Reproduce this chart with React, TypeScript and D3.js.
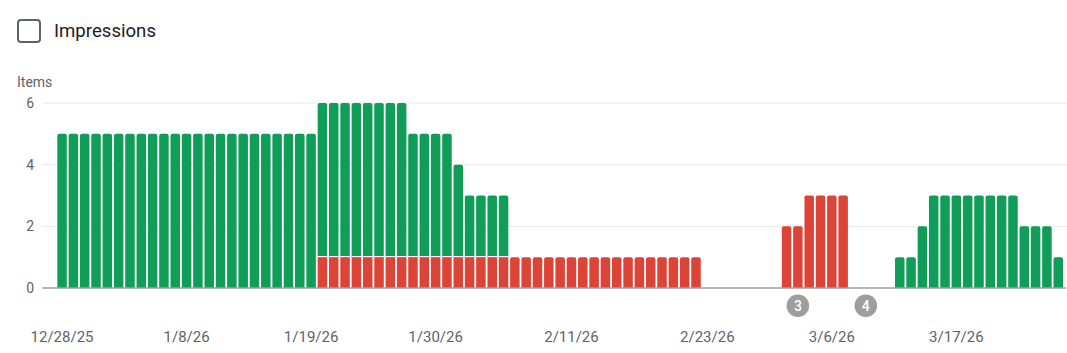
import * as d3 from "d3";

// daily item counts, starting 12/28/25 (89 days)
const startDate = new Date(2025, 11, 28);
const dayCount = 89;

const validItems = [
  5, 5, 5, 5, 5, 5, 5, 5, 5, 5, 5, 5, 5, 5, 5, 5, 5, 5, 5, 5, 5, 5, 5,
  5, 5, 5, 5, 5, 5, 5, 5, 4, 4, 4, 4, 3, 2, 2, 2, 2,
  0, 0, 0, 0, 0, 0, 0, 0, 0, 0, 0, 0, 0, 0, 0, 0, 0,
  0, 0, 0, 0, 0, 0, 0, 0, 0, 0, 0, 0, 0, 0, 0, 0, 0,
  1, 1, 2, 3, 3, 3, 3, 3, 3, 3, 3, 2, 2, 2, 1,
];

const invalidItems = [
  0, 0, 0, 0, 0, 0, 0, 0, 0, 0, 0, 0, 0, 0, 0, 0, 0, 0, 0, 0, 0, 0, 0,
  1, 1, 1, 1, 1, 1, 1, 1, 1, 1, 1, 1, 1, 1, 1, 1, 1,
  1, 1, 1, 1, 1, 1, 1, 1, 1, 1, 1, 1, 1, 1, 1, 1, 1,
  0, 0, 0, 0, 0, 0, 0, 2, 2, 3, 3, 3, 3,
  0, 0, 0, 0, 0, 0, 0, 0, 0, 0, 0, 0, 0, 0, 0, 0, 0, 0, 0,
];

const tickLabels = ["12/28/25", "1/8/26", "1/19/26", "1/30/26", "2/11/26", "2/23/26", "3/6/26", "3/17/26"];
const yTicks = [0, 2, 4, 6];

const annotations = [
  { date: "3/3/26", label: "3" },
  { date: "3/9/26", label: "4" },
];

const GREEN = "#0f9d58";
const RED = "#db4437";
const FONT = "Roboto, Arial, sans-serif";

const fmt = d3.timeFormat("%-m/%-d/%y");

// rect with rounded top corners only
const topRounded = (x: number, y: number, w: number, h: number, r: number) => {
  const rr = Math.min(r, h, w / 2);
  return `M${x},${y + h}V${y + rr}Q${x},${y} ${x + rr},${y}H${x + w - rr}Q${x + w},${y} ${x + w},${y + rr}V${y + h}Z`;
};

const App = () => {
  const width = 1067;
  const height = 353;

  const dates = d3.timeDay.range(startDate, d3.timeDay.offset(startDate, dayCount)).map(fmt);

  const x = d3
    .scaleBand<string>()
    .domain(dates)
    .range([56.4, 1063.9])
    .paddingInner(0.16)
    .paddingOuter(0.08);

  const y = d3.scaleLinear().domain([0, 6]).range([288, 103]);

  const data = dates.map((d, i) => ({ date: d, valid: validItems[i], invalid: invalidItems[i] }));
  const bw = x.bandwidth();

  return (
    <svg
      width={width}
      height={height}
      style={{ position: "absolute", left: 0, top: 0, fontFamily: FONT }}
    >
      {/* legend checkbox */}
      <rect x={18} y={20} width={22} height={22} rx={3} fill="white" stroke="#5f6368" strokeWidth={2} />
      <text x={54} y={37} fontSize={18.6} fill="#202124">Impressions</text>

      <text x={17} y={87} fontSize={14} fill="#5f6368">Items</text>

      {/* gridlines + y labels */}
      {yTicks.map((t) => (
        <g key={t}>
          {t > 0 && <line x1={42} x2={1067} y1={y(t)} y2={y(t)} stroke="#e8e8e8" strokeWidth={1} />}
          <text x={34} y={y(t)} dy="0.35em" textAnchor="end" fontSize={14} fill="#5f6368">
            {t}
          </text>
        </g>
      ))}

      {/* bars */}
      {data.map((d) => {
        const x0 = x(d.date)!;
        const total = d.valid + d.invalid;
        const parts = [];
        if (d.invalid > 0) {
          const top = y(d.invalid);
          parts.push(
            <path
              key="r"
              d={d.valid > 0 ? `M${x0},${top}h${bw}V${y(0)}h${-bw}Z` : topRounded(x0, top, bw, y(0) - top, 2)}
              fill={RED}
            />
          );
        }
        if (d.valid > 0) {
          const top = y(total);
          const bottom = d.invalid > 0 ? y(d.invalid) - 1.2 : y(0);
          parts.push(<path key="g" d={topRounded(x0, top, bw, bottom - top, 2)} fill={GREEN} />);
        }
        return <g key={d.date}>{parts}</g>;
      })}

      {/* baseline */}
      <line x1={42} x2={1066} y1={y(0)} y2={y(0)} stroke="#9aa0a6" strokeWidth={1.5} />

      {/* annotation markers */}
      {annotations.map((a) => {
        const cx = x(a.date)! + bw / 2;
        return (
          <g key={a.label}>
            <circle cx={cx} cy={305.7} r={11.3} fill="#9e9e9e" />
            <text x={cx} y={305.7} dy="0.36em" textAnchor="middle" fontSize={14} fontWeight={500} fill="white">
              {a.label}
            </text>
          </g>
        );
      })}

      {/* x tick labels */}
      {tickLabels.map((t) => (
        <text key={t} x={x(t)! + bw / 2} y={342} textAnchor="middle" fontSize={15} fill="#5f6368">
          {t}
        </text>
      ))}
    </svg>
  );
};

export default App;
